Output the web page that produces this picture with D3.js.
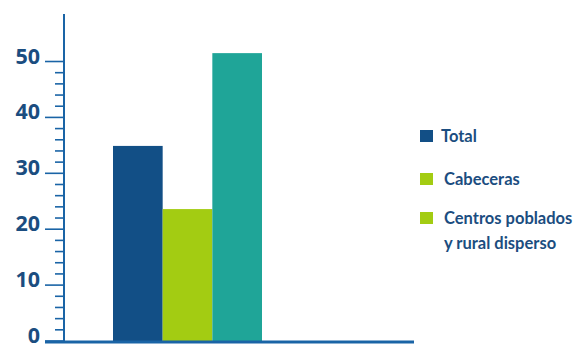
<!DOCTYPE html>
<html><head><meta charset="utf-8">
<script src="https://cdn.jsdelivr.net/npm/d3@7"></script>
<style>body{margin:0;background:#fff;}svg{display:block;}</style>
</head><body><svg id="c" width="577" height="344"></svg>
<script>
const categories = ["Total", "Cabeceras", "Centros poblados y rural disperso"];
const values = [34.9, 23.6, 51.5];
const barColors = ["#124f86", "#a3cc12", "#1fa598"];
const legendColors = ["#124f86", "#a3cc12", "#a3cc12"];
const legendLabels = [["Total"], ["Cabeceras"], ["Centros poblados", "y rural disperso"]];
const majorTicks = [0, 10, 20, 30, 40, 50];
const minorTicks = d3.range(2, 50, 2).filter(v => v % 10 !== 0);

const svg = d3.select("#c");
const axisColor = "#1a64a6";
const textColor = "#1b4d80";

const y = d3.scaleLinear().domain([0, 58.5]).range([341, 14]);
const x = d3.scaleBand().domain(categories).range([113, 262]).padding(0);
const axisX = 64;

// bars
svg.selectAll("rect.bar").data(categories).join("rect")
  .attr("class", "bar")
  .attr("x", d => x(d))
  .attr("width", x.bandwidth())
  .attr("y", (d, i) => y(values[i]))
  .attr("height", (d, i) => y(0) - y(values[i]))
  .attr("fill", (d, i) => barColors[i]);

// y axis line
svg.append("line").attr("x1", axisX).attr("x2", axisX)
  .attr("y1", y.range()[1]).attr("y2", y(0))
  .attr("stroke", axisColor).attr("stroke-width", 2);

// minor ticks
svg.selectAll("line.minor").data(minorTicks).join("line")
  .attr("class", "minor")
  .attr("x1", 55).attr("x2", axisX)
  .attr("y1", d => y(d)).attr("y2", d => y(d))
  .attr("stroke", axisColor).attr("stroke-width", 1.6);

// major ticks
svg.selectAll("line.major").data(majorTicks).join("line")
  .attr("class", "major")
  .attr("x1", 45).attr("x2", axisX)
  .attr("y1", d => y(d)).attr("y2", d => y(d))
  .attr("stroke", axisColor).attr("stroke-width", 1.6);

// tick labels
svg.selectAll("text.tl").data(majorTicks).join("text")
  .attr("class", "tl")
  .attr("x", 40).attr("y", d => y(d) + 2)
  .attr("text-anchor", "end")
  .attr("font-family", "'Open Sans', sans-serif")
  .attr("font-weight", "bold")
  .attr("font-size", 21.5)
  .attr("fill", textColor)
  .text(d => d);

// x axis baseline
svg.append("line").attr("x1", 45).attr("x2", 414)
  .attr("y1", y(0) + 1).attr("y2", y(0) + 1)
  .attr("stroke", axisColor).attr("stroke-width", 3);

// legend
const legY = [130, 173, 212];
const lg = svg.selectAll("g.leg").data(legendLabels).join("g").attr("class", "leg");
lg.append("rect")
  .attr("x", 420).attr("y", (d, i) => legY[i])
  .attr("width", 13).attr("height", 12)
  .attr("fill", (d, i) => legendColors[i]);
lg.each(function(d, i) {
  const t = d3.select(this).append("text")
    .attr("x", i === 0 ? 441 : 444)
    .attr("y", legY[i] + 12)
    .attr("font-family", "Lato, 'Open Sans', sans-serif")
    .attr("font-weight", "bold")
    .attr("font-size", 16.5)
    .attr("fill", textColor);
  d.forEach((line, j) => {
    t.append("tspan").attr("x", i === 0 ? 441 : 444).attr("dy", j === 0 ? 0 : 25).text(line);
  });
});
</script></body></html>
